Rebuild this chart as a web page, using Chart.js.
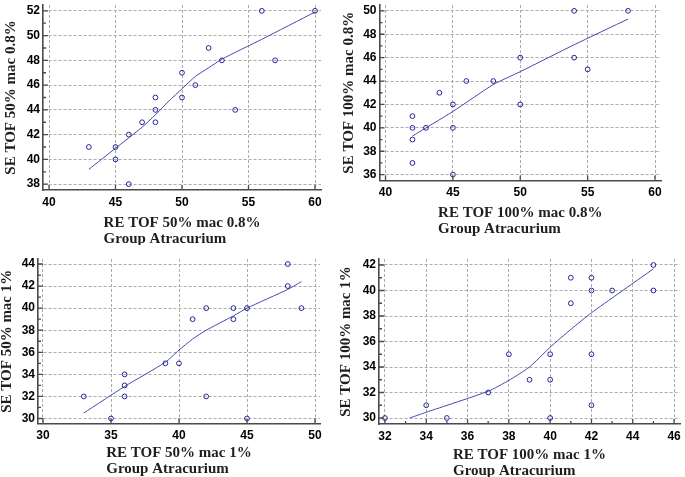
<!DOCTYPE html>
<html>
<head>
<meta charset="utf-8">
<script src="https://cdn.jsdelivr.net/npm/chart.js@4.4.0/dist/chart.umd.min.js"></script>
<style>
  html, body { margin: 0; padding: 0; background: #fff; }
  body { width: 685px; height: 477px; position: relative; overflow: hidden; }
  canvas { position: absolute; }
</style>
</head>
<body>
<canvas id="c1" width="340" height="245" style="left:0;top:0"></canvas>
<canvas id="c2" width="345" height="245" style="left:340px;top:0"></canvas>
<canvas id="c3" width="340" height="237" style="left:0;top:240px"></canvas>
<canvas id="c4" width="345" height="237" style="left:340px;top:240px"></canvas>
<script>
// top left: TOF 50%, mac 0.8%
const p1X = [43, 45, 45, 46, 46, 47, 48, 48, 48, 50, 50, 51, 52, 53, 54, 56, 57, 60];
const p1Y = [41, 41, 40, 42, 38, 43, 45, 44, 43, 47, 45, 46, 49, 48, 44, 52, 48, 52];
const p1FitX = [43, 45, 47, 48, 49, 50, 51, 52, 53, 56, 60];
const p1FitY = [39.2, 40.9, 42.6, 43.6, 44.7, 45.7, 46.7, 47.4, 48.1, 49.7, 51.9];
const p1XTicks = [40, 45, 50, 55, 60];
const p1YTicks = [38, 40, 42, 44, 46, 48, 50, 52];

// top right: TOF 100%, mac 0.8%
const p2X = [42, 42, 42, 42, 43, 44, 45, 45, 45, 46, 48, 50, 50, 54, 54, 55, 58];
const p2Y = [41, 40, 39, 37, 40, 43, 42, 40, 36, 44, 44, 46, 42, 50, 46, 45, 50];
const p2FitX = [42, 45, 48, 50, 54, 58];
const p2FitY = [39.3, 41.4, 43.7, 44.8, 47.1, 49.3];
const p2XTicks = [40, 45, 50, 55, 60];
const p2YTicks = [36, 38, 40, 42, 44, 46, 48, 50];

// bottom left: TOF 50%, mac 1%
const p3X = [33, 35, 36, 36, 36, 39, 40, 41, 42, 42, 44, 44, 45, 45, 48, 48, 49];
const p3Y = [32, 30, 34, 33, 32, 35, 35, 39, 40, 32, 40, 39, 40, 30, 44, 42, 40];
const p3FitX = [33, 36, 39, 40, 41, 42, 44, 45, 48, 49];
const p3FitY = [30.5, 32.9, 35.1, 36.2, 37.2, 38.0, 39.3, 40.0, 41.7, 42.4];
const p3XTicks = [30, 35, 40, 45, 50];
const p3YTicks = [30, 32, 34, 36, 38, 40, 42, 44];

// bottom right: TOF 100%, mac 1%
const p4X = [32, 34, 35, 37, 38, 39, 40, 40, 40, 41, 41, 42, 42, 42, 42, 43, 45, 45];
const p4Y = [30, 31, 30, 32, 35, 33, 35, 33, 30, 41, 39, 41, 40, 35, 31, 40, 42, 40];
const p4FitX = [33.2, 34, 37, 38, 39, 40, 41, 42, 45];
const p4FitY = [30.0, 30.45, 32.1, 32.95, 34.0, 35.55, 36.95, 38.25, 41.7];
const p4XTicks = [32, 34, 36, 38, 40, 42, 44, 46];
const p4YTicks = [30, 32, 34, 36, 38, 40, 42];

const groupName = 'Group Atracurium';

const tickFont = { family: '"Liberation Sans", Arial, sans-serif', size: 12, weight: 'bold' };
const titleFontCss = 'bold 15px "Liberation Serif", "Times New Roman", serif';
const axisColor = '#4a4a4a';
const gridColor = '#ababab';
const pointColor = '#24249a';
const lineColor = '#4848aa';

// extends the tick range so the first/last tick sit padPx inside the plot
function range(ticks, sizePx, padPx) {
  const first = ticks[0], last = ticks[ticks.length - 1];
  const pad = (last - first) * padPx / (sizePx - 2 * padPx);
  return { min: first - pad, max: last + pad };
}

// inward tick marks + left aligned two line x title
const frameExtras = {
  id: 'frameExtras',
  afterDraw(chart, args, opts) {
    const { ctx, chartArea: a, scales: { x, y } } = chart;
    ctx.save();
    ctx.strokeStyle = axisColor;
    ctx.lineWidth = 1.3;
    ctx.beginPath();
    const xt = x.ticks.map(t => t.value);
    const yt = y.ticks.map(t => t.value);
    xt.forEach(v => {
      const px = x.getPixelForValue(v);
      ctx.moveTo(px, a.bottom); ctx.lineTo(px, a.bottom - 5);
    });
    yt.forEach(v => {
      const py = y.getPixelForValue(v);
      ctx.moveTo(a.left, py); ctx.lineTo(a.left + 5, py);
    });
    if (opts.minorX) {
      for (let i = 0; i < xt.length - 1; i++) {
        const px = x.getPixelForValue((xt[i] + xt[i + 1]) / 2);
        ctx.moveTo(px, a.bottom); ctx.lineTo(px, a.bottom - 3);
      }
    }
    if (opts.minorY) {
      for (let i = 0; i < yt.length - 1; i++) {
        const py = y.getPixelForValue((yt[i] + yt[i + 1]) / 2);
        ctx.moveTo(a.left, py); ctx.lineTo(a.left + 3, py);
      }
    }
    ctx.stroke();

    ctx.font = titleFontCss;
    ctx.fillStyle = '#1e1e1e';
    ctx.textAlign = 'left';
    ctx.textBaseline = 'middle';
    const w = Math.max(...opts.lines.map(l => ctx.measureText(l).width));
    const left = (a.left + a.right) / 2 - w / 2 + (opts.shift || 0);
    opts.lines.forEach((l, i) => ctx.fillText(l, left, opts.titleY + i * 16));
    ctx.restore();
  }
};

function makePanel(id, p) {
  const canvas = document.getElementById(id);
  const W = canvas.width, H = canvas.height;
  const a = p.area;
  const xr = range(p.xTicks, a.right - a.left, p.pad);
  const yr = range(p.yTicks, a.bottom - a.top, p.pad);
  const setTicks = list => scale => { scale.ticks = list.map(v => ({ value: v })); };
  const noPad = s => { s.paddingTop = 0; s.paddingBottom = 0; s.paddingLeft = 0; s.paddingRight = 0; };

  return new Chart(canvas, {
    type: 'scatter',
    data: {
      datasets: [
        {
          data: p.fitX.map((v, i) => ({ x: v, y: p.fitY[i] })),
          showLine: true,
          borderColor: lineColor,
          borderWidth: 1,
          pointRadius: 0,
          tension: 0.2,
          order: 2
        },
        {
          data: p.x.map((v, i) => ({ x: v, y: p.y[i] })),
          pointRadius: 2.4,
          pointBorderWidth: 1,
          borderColor: pointColor,
          backgroundColor: 'rgba(0,0,0,0)',
          order: 1
        }
      ]
    },
    options: {
      responsive: false,
      animation: false,
      devicePixelRatio: 1,
      layout: { padding: { left: 0, top: a.top, right: W - a.right, bottom: 0 } },
      plugins: {
        legend: { display: false },
        tooltip: { enabled: false },
        frameExtras: { lines: p.xTitle, titleY: p.xTitleY, minorX: p.minorX, minorY: p.minorY, shift: p.shift }
      },
      scales: {
        x: {
          type: 'linear',
          min: xr.min,
          max: xr.max,
          afterBuildTicks: setTicks(p.xTicks),
          afterFit: s => { s.height = H - a.bottom; noPad(s); },
          grid: { color: gridColor, lineWidth: 1, drawTicks: false },
          border: { display: true, color: axisColor, width: 1.6, dash: [3, 2] },
          ticks: { font: tickFont, color: '#000', padding: 5, maxRotation: 0 }
        },
        y: {
          type: 'linear',
          min: yr.min,
          max: yr.max,
          afterBuildTicks: setTicks(p.yTicks),
          afterFit: s => { s.width = a.left; noPad(s); },
          grid: { color: gridColor, lineWidth: 1, drawTicks: false },
          border: { display: true, color: axisColor, width: 1.6, dash: [3, 2] },
          ticks: { font: tickFont, color: '#000', padding: 3 },
          title: {
            display: true,
            text: p.yTitle,
            color: '#1e1e1e',
            font: { family: '"Liberation Serif", "Times New Roman", serif', size: 15, weight: 'bold', lineHeight: 1 },
            padding: { top: p.yTitlePad, bottom: 0 }
          }
        }
      }
    },
    plugins: [frameExtras]
  });
}

makePanel('c1', {
  x: p1X, y: p1Y, fitX: p1FitX, fitY: p1FitY, xTicks: p1XTicks, yTicks: p1YTicks,
  area: { left: 43, right: 321, top: 0, bottom: 190 }, pad: 6,
  yTitle: 'SE TOF 50% mac 0.8%', yTitlePad: 4,
  xTitle: ['RE TOF 50% mac 0.8%', groupName], xTitleY: 223,
  minorX: false, minorY: true
});
makePanel('c2', {
  x: p2X, y: p2Y, fitX: p2FitX, fitY: p2FitY, xTicks: p2XTicks, yTicks: p2YTicks,
  area: { left: 39.5, right: 321, top: 0, bottom: 180.5 }, pad: 6,
  yTitle: 'SE TOF 100% mac 0.8%', yTitlePad: 2,
  xTitle: ['RE TOF 100% mac 0.8%', groupName], xTitleY: 213,
  minorX: false, minorY: true
});
makePanel('c3', {
  x: p3X, y: p3Y, fitX: p3FitX, fitY: p3FitY, xTicks: p3XTicks, yTicks: p3YTicks,
  area: { left: 38, right: 320, top: 19, bottom: 183.5 }, pad: 5,
  yTitle: 'SE TOF 50% mac 1%', yTitlePad: 0,
  xTitle: ['RE TOF 50% mac 1%', groupName], xTitleY: 213,
  minorX: false, minorY: true
});
makePanel('c4', {
  x: p4X, y: p4Y, fitX: p4FitX, fitY: p4FitY, xTicks: p4XTicks, yTicks: p4YTicks,
  area: { left: 39, right: 344, top: 19, bottom: 184 }, pad: 6,
  yTitle: 'SE TOF 100% mac 1%', yTitlePad: -1.5,
  xTitle: ['RE TOF 100% mac 1%', groupName], xTitleY: 215,
  minorX: true, minorY: true
});
</script>
</body>
</html>
